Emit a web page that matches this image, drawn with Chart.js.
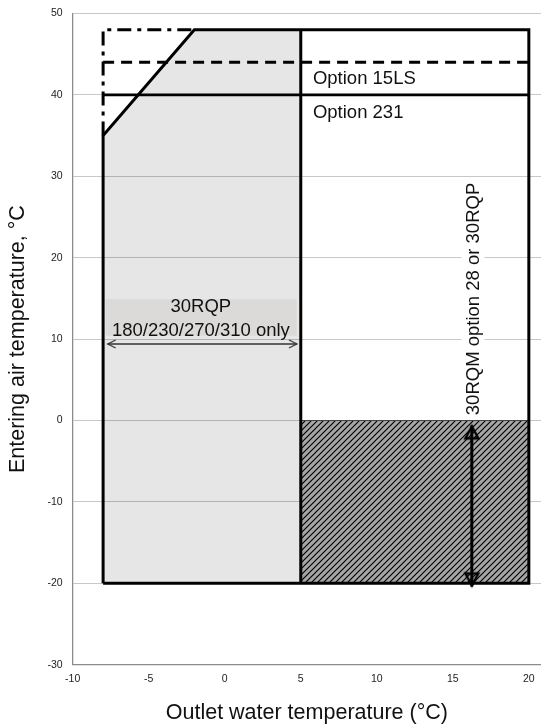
<!DOCTYPE html>
<html>
<head>
<meta charset="utf-8">
<script src="https://cdn.jsdelivr.net/npm/chart.js@4/dist/chart.umd.min.js"></script>
<style>
  html, body { margin: 0; padding: 0; background: #fff; }
  canvas { display: block; }
</style>
</head>
<body>
<canvas id="c" width="541" height="727"></canvas>
<script>
// ---- data ----
const xTicks = [-10, -5, 0, 5, 10, 15, 20];
const yTicks = [-30, -20, -10, 0, 10, 20, 30, 40, 50];

const shadedX = [-8, -8, -2, 5, 5];
const shadedY = [-20, 35, 48, 48, -20];

const envelopeX = [-8, -8, -2, 20, 20, -8];
const envelopeY = [-20, 35, 48, 48, -20, -20];

const dividerX = [5, 5];
const dividerY = [48, -20];

const option231X = [-8, 20];
const option231Y = [40, 40];

const option15LSX = [-8, 20];
const option15LSY = [44, 44];

const dashDotX = [-8, -8, -2];
const dashDotY = [35, 48, 48];

const hatchX = [5, 5, 20, 20];
const hatchY = [-20, 0, 0, -20];

const noteBoxX = [-7.83, -7.83, 4.74, 4.74];
const noteBoxY = [10.4, 14.9, 14.9, 10.4];

const hArrowX = [-7.7, 4.75];
const hArrowY = [9.4, 9.4];

const vArrowX = [16.25, 16.25];
const vArrowY = [-0.6, -20.4];

const noteTexts = ['30RQP', '180/230/270/310 only', 'Option 15LS', 'Option 231', '30RQM option 28 or 30RQP'];
const noteX = [-1.57, -1.57, 5.8, 5.8, 16.33];
const noteY = [13.9, 11.03, 41.95, 37.78, 14.93];
const noteAlign = ['center', 'center', 'left', 'left', 'center'];
const noteRotated = [false, false, false, false, true];

const xTitle = 'Outlet water temperature (°C)';
const yTitle = 'Entering air temperature, °C';

// ---- helpers ----
const pts = (xs, ys) => xs.map((x, i) => ({ x: x, y: ys[i] }));
const FONT = '"Liberation Sans", Arial, sans-serif';

function makeHatch() {
  const s = 6;
  const c = document.createElement('canvas');
  c.width = s; c.height = s;
  const g = c.getContext('2d');
  g.fillStyle = '#a6a6a6';
  g.fillRect(0, 0, s, s);
  g.strokeStyle = '#000';
  g.lineWidth = 1.2;
  g.beginPath();
  g.moveTo(0, s); g.lineTo(s, 0);
  g.moveTo(-1, 1); g.lineTo(1, -1);
  g.moveTo(s - 1, s + 1); g.lineTo(s + 1, s - 1);
  g.stroke();
  return g.createPattern(c, 'repeat');
}

function makeOpenV() { // tip at center, pointing left
  const c = document.createElement('canvas');
  c.width = 22; c.height = 22;
  const g = c.getContext('2d');
  g.strokeStyle = '#333';
  g.lineWidth = 1.2;
  g.beginPath();
  g.moveTo(19, 7); g.lineTo(11, 11); g.lineTo(19, 15);
  g.stroke();
  return c;
}

function makeOpenTriangle() { // tip at center, pointing up
  const c = document.createElement('canvas');
  c.width = 32; c.height = 32;
  const g = c.getContext('2d');
  g.strokeStyle = '#000';
  g.lineWidth = 2.4;
  g.lineJoin = 'miter';
  g.beginPath();
  g.moveTo(16, 17); g.lineTo(22.5, 29); g.lineTo(9.5, 29); g.closePath();
  g.stroke();
  return c;
}

const notesPlugin = {
  id: 'notes',
  afterDatasetsDraw(chart) {
    const ctx = chart.ctx;
    const xs = chart.scales.x, ys = chart.scales.y;
    ctx.save();
    ctx.font = '18.5px ' + FONT;
    ctx.fillStyle = '#111';
    ctx.textBaseline = 'middle';
    noteTexts.forEach((t, i) => {
      const px = xs.getPixelForValue(noteX[i]);
      const py = ys.getPixelForValue(noteY[i]);
      if (noteRotated[i]) {
        const w = ctx.measureText(t).width;
        ctx.save();
        ctx.translate(px, py);
        ctx.rotate(-Math.PI / 2);
        ctx.fillStyle = '#fff';
        ctx.fillRect(-w / 2 - 4, -11.5, w + 8, 23);
        ctx.fillStyle = '#111';
        ctx.textAlign = 'center';
        ctx.fillText(t, 0, 1);
        ctx.restore();
      } else {
        ctx.textAlign = noteAlign[i];
        ctx.fillText(t, px, py);
      }
    });
    ctx.restore();
  }
};

const base = { tension: 0, pointRadius: 0, pointHoverRadius: 0, fill: false };

const chart = new Chart(document.getElementById('c'), {
  type: 'line',
  data: {
    datasets: [
      Object.assign({}, base, { data: pts(vArrowX, vArrowY), borderColor: '#000', borderWidth: 3,
        pointRadius: 6, pointStyle: makeOpenTriangle(), pointRotation: [0, 180], order: 0 }),
      Object.assign({}, base, { data: pts(hArrowX, hArrowY), borderColor: '#333', borderWidth: 1.3,
        pointRadius: 6, pointStyle: makeOpenV(), pointRotation: [0, 180], order: 1 }),
      Object.assign({}, base, { data: pts(envelopeX, envelopeY), borderColor: '#000', borderWidth: 3,
        borderJoinStyle: 'miter', order: 2 }),
      Object.assign({}, base, { data: pts(dividerX, dividerY), borderColor: '#000', borderWidth: 3, order: 3 }),
      Object.assign({}, base, { data: pts(option231X, option231Y), borderColor: '#000', borderWidth: 2.8, order: 4 }),
      Object.assign({}, base, { data: pts(option15LSX, option15LSY), borderColor: '#000', borderWidth: 3,
        borderDash: [11, 7], order: 5 }),
      Object.assign({}, base, { data: pts(dashDotX, dashDotY), borderColor: '#000', borderWidth: 3,
        borderDash: [14, 6, 4, 6], order: 6 }),
      Object.assign({}, base, { data: pts(hatchX, hatchY), borderColor: '#444', borderWidth: 1,
        backgroundColor: makeHatch(), fill: 'shape', order: 7 }),
      Object.assign({}, base, { data: pts(noteBoxX, noteBoxY), borderWidth: 0,
        backgroundColor: '#dcd9d9', fill: 'shape', order: 8 }),
      Object.assign({}, base, { data: pts(shadedX, shadedY), borderWidth: 0,
        backgroundColor: 'rgba(0,0,0,0.098)', fill: 'shape', order: 9 })
    ]
  },
  options: {
    responsive: false,
    animation: false,
    events: [],
    layout: { autoPadding: false, padding: { top: 13.5, right: 0, left: 0, bottom: 0 } },
    plugins: { legend: { display: false }, tooltip: { enabled: false } },
    scales: {
      x: {
        type: 'linear',
        min: -10,
        max: 20.8,
        afterBuildTicks: s => { s.ticks = xTicks.map(v => ({ value: v })); },
        afterFit: s => { s.height = 62.3; s.paddingLeft = 0; s.paddingRight = 0; },
        grid: { display: false, drawTicks: false },
        border: { display: true, color: '#8c8c8c', width: 1.3 },
        ticks: { padding: 8, color: '#222', font: { family: FONT, size: 10.5 }, maxRotation: 0 },
        title: { display: true, text: xTitle, color: '#111', font: { family: FONT, size: 21.5 },
          padding: { top: 0, bottom: 1 } }
      },
      y: {
        type: 'linear',
        min: -30,
        max: 50,
        afterBuildTicks: s => { s.ticks = yTicks.map(v => ({ value: v })); },
        afterFit: s => { s.width = 72.7; s.paddingTop = 0; s.paddingBottom = 0; },
        grid: { color: '#c8c8c8', lineWidth: 1, drawTicks: false },
        border: { display: true, color: '#8c8c8c', width: 1.3 },
        ticks: { padding: 10, color: '#222', font: { family: FONT, size: 10.5 } },
        title: { display: true, text: yTitle, color: '#111', font: { family: FONT, size: 21.5 },
          padding: { top: 5, bottom: 0 } }
      }
    }
  },
  plugins: [notesPlugin]
});
</script>
</body>
</html>
